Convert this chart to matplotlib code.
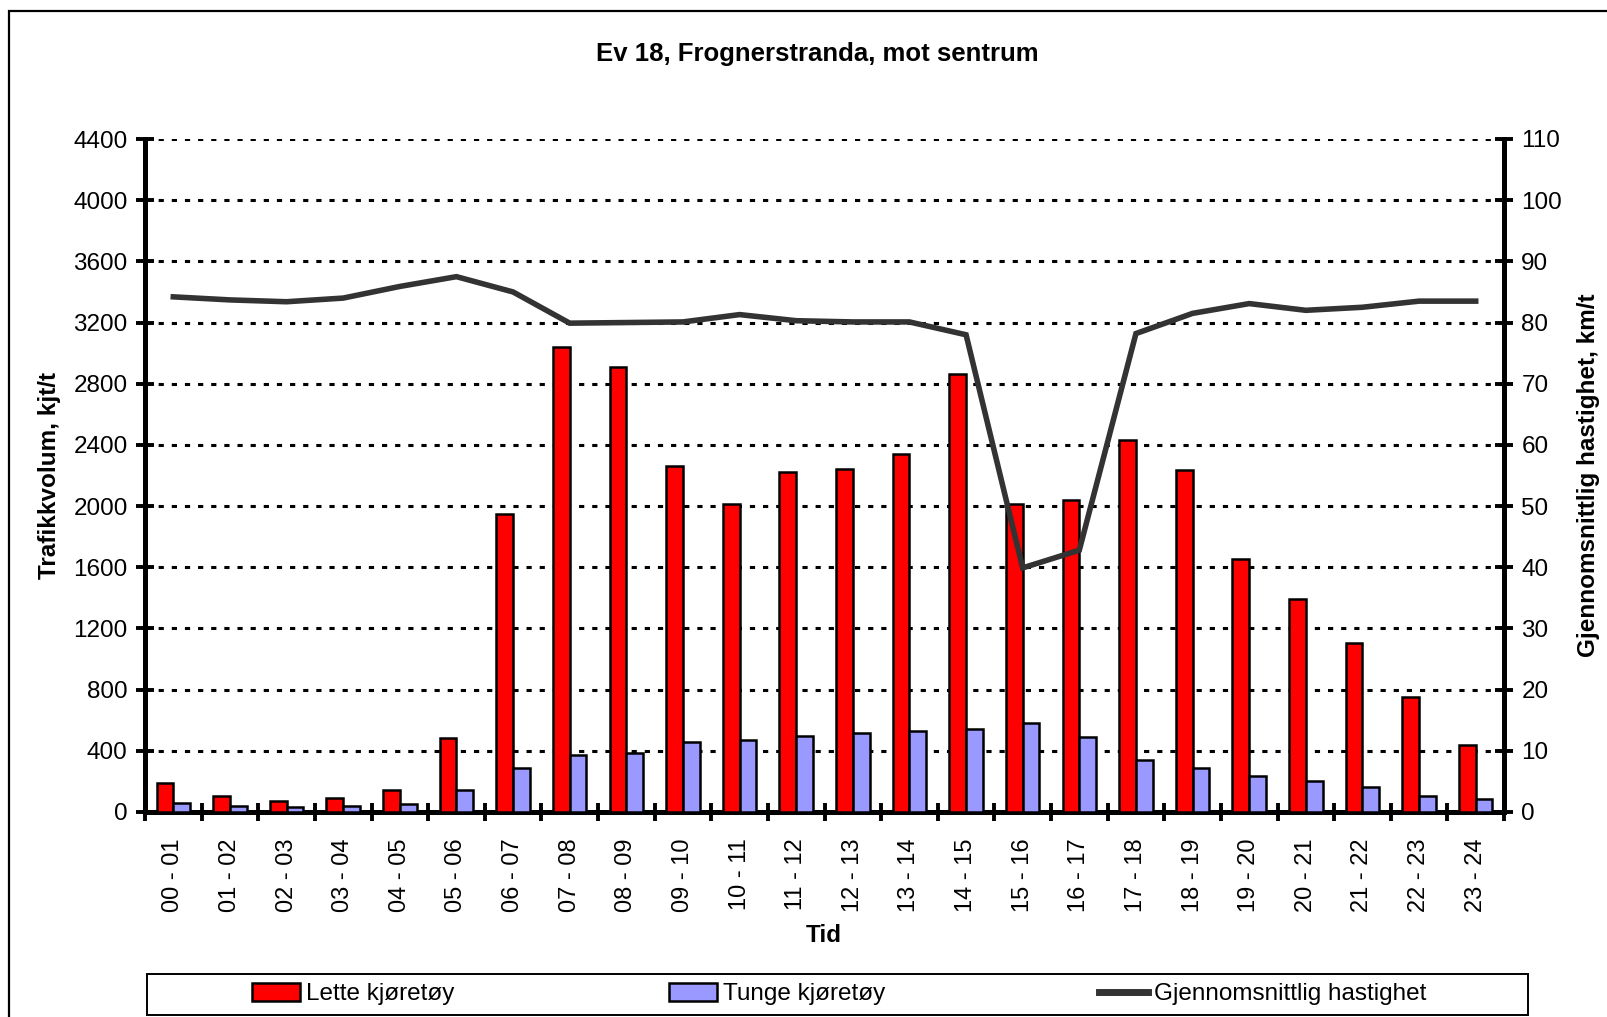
import matplotlib
matplotlib.use("Agg")
import matplotlib.pyplot as plt
from matplotlib.patches import Rectangle, Patch
from matplotlib.lines import Line2D
import numpy as np

plt.rcParams['font.family'] = ['Liberation Sans', 'DejaVu Sans']

# data
tid = ["00 - 01", "01 - 02", "02 - 03", "03 - 04", "04 - 05", "05 - 06",
       "06 - 07", "07 - 08", "08 - 09", "09 - 10", "10 - 11", "11 - 12",
       "12 - 13", "13 - 14", "14 - 15", "15 - 16", "16 - 17", "17 - 18",
       "18 - 19", "19 - 20", "20 - 21", "21 - 22", "22 - 23", "23 - 24"]
lette = [192, 107, 74, 94, 144, 482, 1946, 3042, 2907, 2260, 2014, 2221,
         2243, 2339, 2864, 2012, 2042, 2430, 2234, 1656, 1393, 1103, 754, 436]
tunge = [57, 41, 33, 41, 50, 142, 285, 371, 388, 458, 473, 497,
         516, 527, 540, 584, 488, 338, 285, 235, 200, 166, 107, 83]
hastighet = [84.2, 83.7, 83.4, 84.0, 85.9, 87.5, 85.0, 79.9, 80.0, 80.1, 81.3, 80.3,
             80.1, 80.1, 78.0, 39.9, 42.8, 78.2, 81.5, 83.1, 82.0, 82.5, 83.5, 83.5]

RED = '#ff0000'
BLUE = '#9999ff'
LINE = '#333333'

fig = plt.figure(figsize=(16.08, 10.17), dpi=100)
ax = fig.add_axes([145/1608, 1-812/1017, (1504-145)/1608, (812-139)/1017])
ax2 = ax.twinx()

x = np.arange(len(tid))
w = 0.295
ax.bar(x - w/2, lette, w, color=RED, edgecolor='black', linewidth=1.8, zorder=3)
ax.bar(x + w/2, tunge, w, color=BLUE, edgecolor='black', linewidth=1.8, zorder=3)
ax2.plot(x, hastighet, color=LINE, linewidth=4.0, solid_joinstyle='miter')

ax.set_xlim(-0.5, len(tid) - 0.5)
ax.set_ylim(0, 4400)
ax.set_yticks(np.arange(0, 4401, 400))
ax2.set_ylim(0, 110)
ax2.set_yticks(np.arange(0, 111, 10))

# gridlines
ax.set_axisbelow(True)
ax.yaxis.grid(True, color='black', linewidth=2.2, linestyle=(0, (1.7, 2.6)))

# x ticks on the boundaries, labels in the middle
ax.set_xticks(np.arange(-0.5, len(tid), 1.0))
ax.set_xticklabels([])
ax.set_xticks(x, minor=True)
ax.set_xticklabels(tid, minor=True, rotation=90, fontsize=17)
ax.tick_params(axis='x', which='minor', length=0, pad=19)
ax.tick_params(axis='x', which='major', direction='inout', length=13, width=2.8)
ax.tick_params(axis='y', direction='inout', length=13, width=2.8, labelsize=17.5, pad=6)
ax2.tick_params(axis='y', direction='inout', length=13, width=2.8, labelsize=17.5, pad=6)

for s in ['top', 'right']:
    ax.spines[s].set_visible(False)
for s in ['left', 'bottom']:
    ax.spines[s].set_linewidth(3.6)
for s in ['top', 'left', 'bottom']:
    ax2.spines[s].set_visible(False)
ax2.spines['right'].set_linewidth(3.6)

ax.set_ylabel('Trafikkvolum, kjt/t', fontsize=17.5, fontweight='bold')
ax.yaxis.set_label_coords(-0.062, 0.5)
ax2.set_ylabel('Gjennomsnittlig hastighet, km/t', fontsize=17.5, fontweight='bold')
ax2.yaxis.set_label_coords(1.054, 0.5)

fig.text(824/1608, 1-935/1017, 'Tid', ha='center', va='center',
         fontsize=17.5, fontweight='bold')
fig.text(817/1608, 1-54/1017, 'Ev 18, Frognerstranda, mot sentrum',
         ha='center', va='center', fontsize=18.5, fontweight='bold')

# outer frame of the chart area
fig.patches.append(Rectangle((9/1608, -0.05), 1.1, 1-11/1017+0.05,
                             transform=fig.transFigure, fill=False,
                             edgecolor='black', linewidth=1.6))

# legend box
fig.patches.append(Rectangle((147/1608, 1-1015/1017), (1528-147)/1608, 41/1017,
                             transform=fig.transFigure, fill=False,
                             edgecolor='black', linewidth=1.4))
handles = [Patch(facecolor=RED, edgecolor='black', linewidth=1.8),
           Patch(facecolor=BLUE, edgecolor='black', linewidth=1.8),
           Line2D([], [], color=LINE, linewidth=5)]
fig.legend(handles, ['Lette kjøretøy', 'Tunge kjøretøy', 'Gjennomsnittlig hastighet'],
           loc='center', bbox_to_anchor=(839/1608, 1-994/1017), ncol=3,
           frameon=False, fontsize=17.5, handlelength=2.0, handleheight=0.75,
           handletextpad=0.25, columnspacing=8.8)

fig.savefig('out.png', dpi=100)
